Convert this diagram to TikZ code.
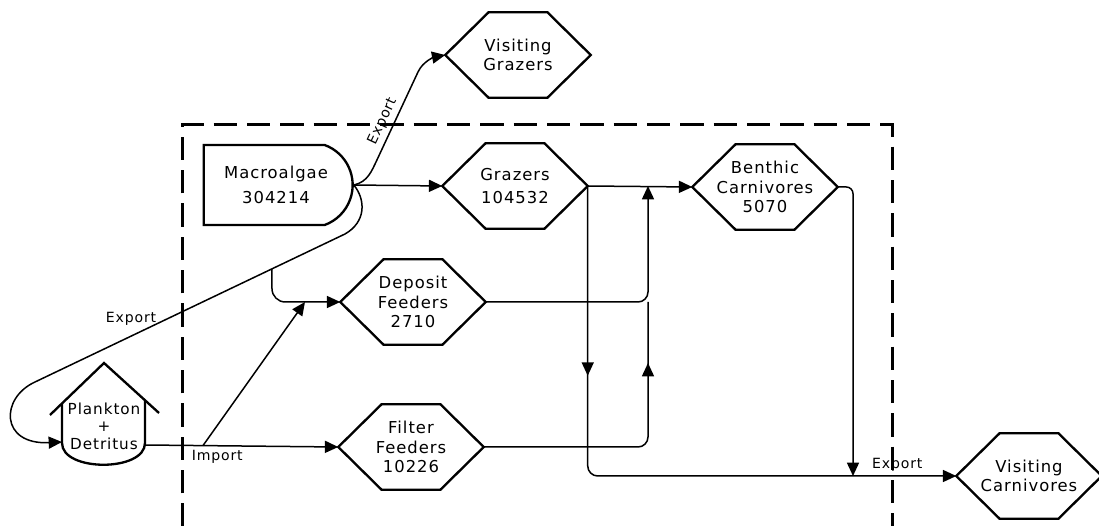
\documentclass[tikz,border=0pt]{standalone}
\usepackage{fontspec}
\setmainfont{DejaVu Sans}[LetterSpace=6]
\usetikzlibrary{shapes.misc,arrows.meta,calc,decorations.markings}

\begin{document}
\begin{tikzpicture}[x=0.3mm,y=-0.3mm,
  hexa/.style={minimum width=43.5mm,minimum height=25.5mm,inner sep=0pt,
               align=center,font=\fontsize{14}{16.5}\selectfont},
  algae/.style={rounded rectangle,rounded rectangle left arc=none,
                rounded rectangle arc length=140,draw,line width=0.7mm,
                minimum width=47mm,minimum height=24mm,align=center,
                font=\fontsize{14}{16.5}\selectfont},
  flow/.style={-{Triangle[length=4mm,width=3.6mm]},line width=0.45mm},
  wire/.style={line width=0.45mm},
  midarrow/.style={postaction={decorate},decoration={markings,
      mark=at position #1 with {\arrow{Triangle[length=4mm,width=3.6mm]}}}},
  lbl/.style={font=\fontsize{12}{14}\selectfont}]
\useasboundingbox (0,0) rectangle (1099,526);
% study area
\draw[line width=0.9mm,dash pattern=on 7mm off 3mm] (182,560) |- (892,125) -- (892,560);
% compartments
\node[algae] (macro) at (276,185) {Macroalgae\\[5pt]304214};
\node[hexa] (vgraz) at (518,55) {Visiting\\Grazers};
\node[hexa] (grazers) at (515,186) {Grazers\\[3pt]104532};
\node[hexa] (benthic) at (765,187) {Benthic\\Carnivores\\5070};
\node[hexa] (deposit) at (413,302) {Deposit\\Feeders\\2710};
\node[hexa] (filter) at (411,447) {Filter\\Feeders\\10226};
\node[hexa] (vcarn) at (1029,476) {Visiting\\Carnivores};
\foreach \n in {vgraz,grazers,benthic,deposit,filter,vcarn}
  \draw[line width=0.7mm] (\n.west) -- ([xshift=13mm]\n.north west)
    -- ([xshift=-13mm]\n.north east) -- (\n.east)
    -- ([xshift=-13mm]\n.south east) -- ([xshift=13mm]\n.south west) -- cycle;
% plankton + detritus store
\node[font=\fontsize{13}{16}\selectfont,align=center,inner sep=0pt] (plank) at (104,426)
  {Plankton\\[-1pt]+\\[-1pt]Detritus};
\draw[line width=0.7mm] (50,415) -- (104,363) -- (159,413);
\draw[line width=0.7mm] (62,403) -- (62,443) .. controls (62,472) and (145,472) .. (145,443) -- (145,400);
\coordinate (plankw) at (62,442);
\coordinate (planke) at (145,445);
% junctions
\coordinate (jtop) at (648,0 |- grazers.east);
\coordinate (jbot) at (853,0 |- vcarn.west);
% flows
\draw[flow] (macro.east) -- (grazers.west);
\draw[flow] (macro.east) .. controls (368,182) and (372,170) .. (376,162)
  -- node[lbl,sloped,above,pos=0.4] {Export} (418,72)
  .. controls (423,61) and (435,57) .. (vgraz.west);
\draw[flow] (macro.east) .. controls (366,200) and (366,222) .. (345,234)
  -- coordinate[pos=0.2355] (dsplit) node[lbl,pos=0.69,above=5pt] {Export} (35,382)
  .. controls (0,398) and (0,445) .. (plankw);
\draw[flow,rounded corners=4mm] (dsplit) |- (deposit.west);
\draw[flow] (planke) -- coordinate[pos=0.3] (isplit) node[lbl,pos=0.374,below] {Import} (filter.west);
\coordinate (dfoot) at (305,0 |- deposit.west);
\draw[flow] (isplit) -- (dfoot);
\draw[flow] (grazers.east) -- (benthic.west);
\draw[flow,midarrow=0.29,rounded corners=3mm] (grazers.east) |- node[lbl,pos=0.92,above] {Export} (vcarn.west);
\draw[flow,rounded corners=3mm] (deposit.east) -| (jtop);
\draw[wire,midarrow=0.8,rounded corners=3mm] (filter.east) -| (jtop |- deposit.east);
\draw[flow,rounded corners=2mm] (benthic.east) -| (jbot);
\end{tikzpicture}
\end{document}
